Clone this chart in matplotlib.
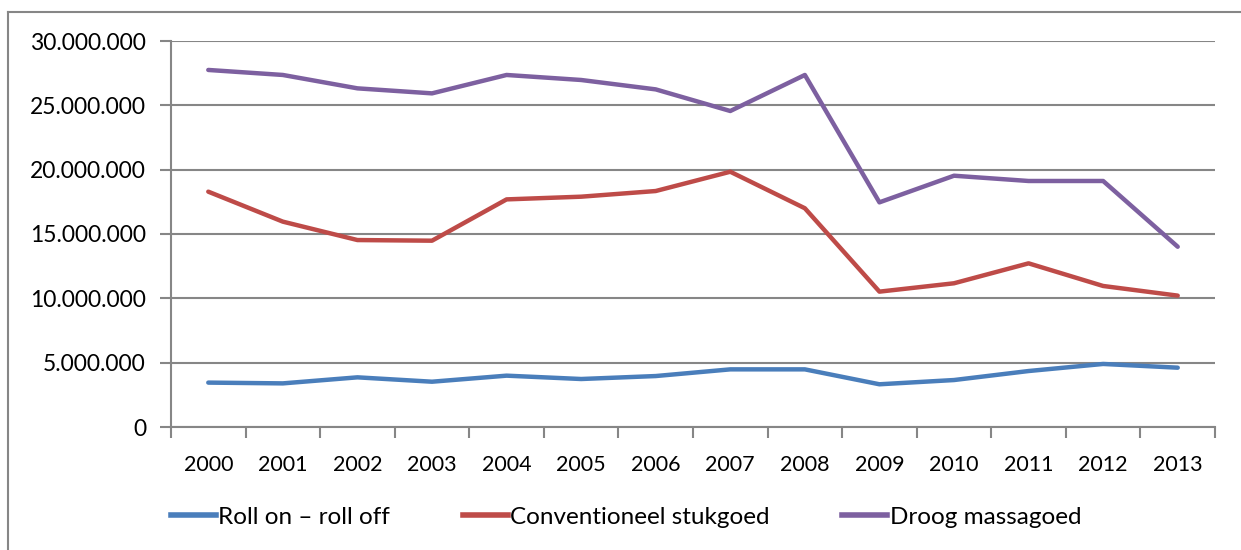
import matplotlib.pyplot as plt
from matplotlib.lines import Line2D
from matplotlib.ticker import FuncFormatter, FixedLocator

years = ['2000', '2001', '2002', '2003', '2004', '2005', '2006',
         '2007', '2008', '2009', '2010', '2011', '2012', '2013']

roro = [3450000, 3390000, 3860000, 3520000, 3990000, 3730000, 3960000,
        4480000, 4480000, 3320000, 3650000, 4350000, 4900000, 4610000]
stukgoed = [18290000, 15960000, 14530000, 14480000, 17690000, 17900000, 18340000,
            19840000, 17000000, 10520000, 11170000, 12720000, 10960000, 10210000]
massagoed = [27750000, 27360000, 26320000, 25930000, 27360000, 26970000, 26240000,
             24560000, 27360000, 17460000, 19530000, 19120000, 19120000, 14010000]

series_names = ['Roll on \u2013 roll off', 'Conventioneel stukgoed', 'Droog massagoed']
colors = ['#4A7EBB', '#BE4B48', '#7D60A0']
grid_color = '#868686'

plt.rcParams['font.family'] = ['Lato', 'DejaVu Sans']

fig = plt.figure(figsize=(12.41, 5.5), dpi=100)
ax = fig.add_axes([171 / 1241, 123 / 550, 1044 / 1241, 386 / 550])

x = list(range(len(years)))
for vals, name, c in zip([roro, stukgoed, massagoed], series_names, colors):
    ax.plot(x, vals, color=c, lw=3.2, label=name, solid_capstyle='round',
            solid_joinstyle='round', zorder=3)

ax.set_xlim(-0.5, len(years) - 0.5)
ax.set_ylim(0, 30000000)
ax.set_yticks(range(0, 30000001, 5000000))
ax.yaxis.set_major_formatter(FuncFormatter(lambda v, p: f'{int(v):,}'.replace(',', '.')))
ax.grid(axis='y', color=grid_color, lw=1.5, zorder=1)

# category ticks sit between the years, labels in the middle
ax.xaxis.set_major_locator(FixedLocator([i - 0.5 for i in range(len(years) + 1)]))
ax.xaxis.set_minor_locator(FixedLocator(x))
ax.set_xticklabels([])
ax.set_xticklabels(years, minor=True)
ax.tick_params(axis='x', which='major', length=8, width=1.5, color=grid_color, direction='out')
ax.tick_params(axis='x', which='minor', length=0, pad=20, labelsize=15.5)
ax.tick_params(axis='y', length=8, width=1.5, color=grid_color, labelsize=16.5, pad=10)

for side in ['top', 'right']:
    ax.spines[side].set_visible(False)
for side in ['left', 'bottom']:
    ax.spines[side].set_color(grid_color)
    ax.spines[side].set_linewidth(1.5)

handles = [Line2D([], [], color=c, lw=4) for c in colors]
fig.legend(handles, series_names, loc='center', bbox_to_anchor=(626 / 1241, 1 - 517 / 550),
           ncol=3, frameon=False, fontsize=17.5, handlelength=1.85, handletextpad=0.1,
           columnspacing=3.0)

# outer chart frame (left and top edges)
fig.add_artist(Line2D([8 / 1241, 8 / 1241], [0, 1 - 12 / 550], color=grid_color, lw=1.5))
fig.add_artist(Line2D([8 / 1241, 1], [1 - 12 / 550, 1 - 12 / 550], color=grid_color, lw=1.5))

fig.savefig('out.png', dpi=100)
